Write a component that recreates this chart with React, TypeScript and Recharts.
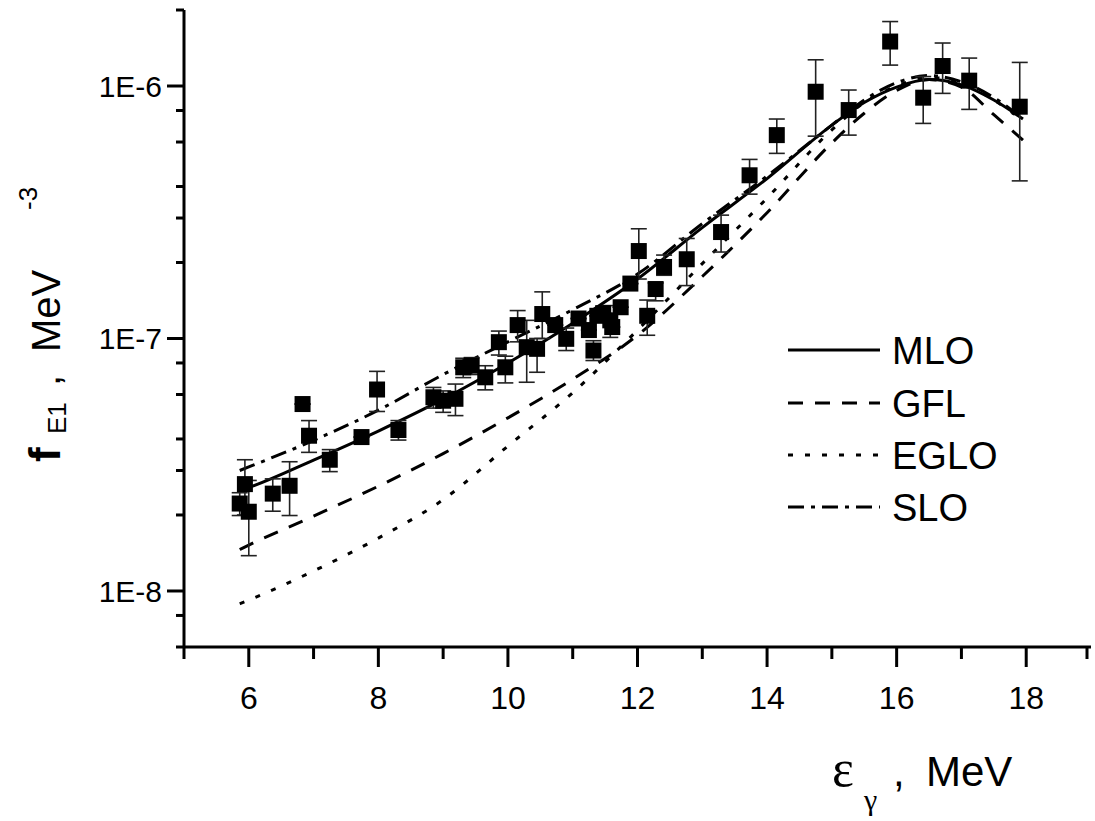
import React from "react";
import { ComposedChart, Line, Scatter, XAxis, YAxis, ErrorBar } from "recharts";

// experimental points (MeV, MeV^-3) and error bar bounds
const expEnergy = [5.86, 5.94, 6.0, 6.37, 6.63, 6.83, 6.93, 7.25, 7.74, 7.98, 8.31, 8.85, 9.0, 9.19, 9.31, 9.44, 9.65, 9.86, 9.96, 10.15, 10.29, 10.45, 10.53, 10.73, 10.9, 11.09, 11.25, 11.32, 11.38, 11.47, 11.58, 11.61, 11.74, 11.89, 12.02, 12.15, 12.28, 12.41, 12.76, 13.29, 13.73, 14.15, 14.75, 15.26, 15.9, 16.41, 16.71, 17.12, 17.9];
const expValue = [2.22e-8, 2.65e-8, 2.06e-8, 2.43e-8, 2.61e-8, 5.5e-8, 4.12e-8, 3.31e-8, 4.07e-8, 6.28e-8, 4.34e-8, 5.85e-8, 5.67e-8, 5.77e-8, 7.69e-8, 7.81e-8, 7.02e-8, 9.67e-8, 7.69e-8, 1.13e-7, 9.24e-8, 9.1e-8, 1.25e-7, 1.13e-7, 9.97e-8, 1.2e-7, 1.08e-7, 8.96e-8, 1.23e-7, 1.26e-7, 1.18e-7, 1.11e-7, 1.33e-7, 1.65e-7, 2.22e-7, 1.23e-7, 1.57e-7, 1.92e-7, 2.06e-7, 2.64e-7, 4.43e-7, 6.39e-7, 9.49e-7, 8.03e-7, 1.5e-6, 8.99e-7, 1.2e-6, 1.05e-6, 8.28e-7];
const expLow = [1.99e-8, 2.0e-8, 1.38e-8, 2.07e-8, 1.99e-8, 5.5e-8, 3.54e-8, 2.97e-8, 4.07e-8, 5.14e-8, 3.96e-8, 5.3e-8, 5.1e-8, 4.95e-8, 7.0e-8, 7.2e-8, 6.26e-8, 8.6e-8, 6.67e-8, 9.7e-8, 6.71e-8, 7.35e-8, 1.0e-7, 1.13e-7, 8.96e-8, 1.2e-7, 1.08e-7, 8.18e-8, 1.23e-7, 1.26e-7, 1.01e-7, 1.11e-7, 1.33e-7, 1.65e-7, 1.72e-7, 1.03e-7, 1.41e-7, 1.78e-7, 1.62e-7, 2.2e-7, 3.73e-7, 5.41e-7, 6.33e-7, 6.39e-7, 1.21e-6, 7.11e-7, 9.35e-7, 8.08e-7, 4.21e-7];
const expHigh = [2.45e-8, 3.31e-8, 2.74e-8, 2.78e-8, 3.25e-8, 5.5e-8, 4.73e-8, 3.63e-8, 4.07e-8, 7.41e-8, 4.73e-8, 6.4e-8, 6.2e-8, 6.6e-8, 8.35e-8, 8.4e-8, 7.8e-8, 1.07e-7, 8.51e-8, 1.29e-7, 1.18e-7, 1.0e-7, 1.53e-7, 1.13e-7, 1.1e-7, 1.2e-7, 1.08e-7, 9.8e-8, 1.23e-7, 1.26e-7, 1.35e-7, 1.11e-7, 1.33e-7, 1.65e-7, 2.72e-7, 1.42e-7, 1.66e-7, 2.14e-7, 2.49e-7, 3.08e-7, 5.12e-7, 7.4e-7, 1.27e-6, 9.64e-7, 1.8e-6, 1.09e-6, 1.48e-6, 1.29e-6, 1.24e-6];

// model curves
const curveEnergy = [5.86, 6, 7, 8, 9, 10, 11, 12, 13, 14, 15, 15.5, 16, 16.5, 17, 17.5, 17.95];
const mloValues = [2.5e-8, 2.57e-8, 3.3e-8, 4.3e-8, 5.75e-8, 8.0e-8, 1.15e-7, 1.72e-7, 2.75e-7, 4.3e-7, 7.0e-7, 8.6e-7, 9.9e-7, 1.06e-6, 1.01e-6, 8.8e-7, 7.4e-7];
const gflValues = [1.46e-8, 1.52e-8, 1.98e-8, 2.6e-8, 3.5e-8, 4.85e-8, 6.9e-8, 1.03e-7, 1.76e-7, 3.15e-7, 5.95e-7, 7.8e-7, 9.6e-7, 1.06e-6, 9.9e-7, 7.7e-7, 6.1e-7];
const egloValues = [8.9e-9, 9.2e-9, 1.2e-8, 1.62e-8, 2.3e-8, 3.75e-8, 6.1e-8, 1.08e-7, 1.98e-7, 3.6e-7, 6.7e-7, 8.6e-7, 1.0e-6, 1.08e-6, 1.03e-6, 8.8e-7, 7.3e-7];
const sloValues = [3.0e-8, 3.1e-8, 3.95e-8, 5.2e-8, 7.2e-8, 9.7e-8, 1.3e-7, 1.8e-7, 2.85e-7, 4.4e-7, 7.0e-7, 8.8e-7, 1.03e-6, 1.1e-6, 1.04e-6, 9.0e-7, 7.4e-7];

const xTicks = [5, 6, 7, 8, 9, 10, 11, 12, 13, 14, 15, 16, 17, 18, 19];
const yTicks = [6e-9, 7e-9, 8e-9, 9e-9, 1e-8, 2e-8, 3e-8, 4e-8, 5e-8, 6e-8, 7e-8, 8e-8, 9e-8, 1e-7, 2e-7, 3e-7, 4e-7, 5e-7, 6e-7, 7e-7, 8e-7, 9e-7, 1e-6, 2e-6];

const FONT = "'Liberation Sans', Arial, sans-serif";

const points = expEnergy.map((x, i) => ({
  x,
  y: expValue[i],
  err: [expValue[i] - expLow[i], expHigh[i] - expValue[i]],
}));
const toCurve = (vals: number[]) => curveEnergy.map((x, i) => ({ x, y: vals[i] }));

const XTick = (props: any) => {
  const { x, y, payload } = props;
  const major = payload.value % 2 === 0;
  return (
    <g>
      <line x1={x} x2={x} y1={y} y2={y + (major ? 20 : 12)} stroke="#000" strokeWidth={3} />
      {major && (
        <text x={x} y={y + 62} textAnchor="middle" fontSize={32} fontFamily={FONT} fill="#000">
          {payload.value}
        </text>
      )}
    </g>
  );
};

const YTick = (props: any) => {
  const { x, y, payload } = props;
  const lg = Math.log10(payload.value);
  const major = Math.abs(lg - Math.round(lg)) < 1e-6;
  return (
    <g>
      <line x1={x - (major ? 17 : 8)} x2={x} y1={y} y2={y} stroke="#000" strokeWidth={3} />
      {major && (
        <text x={x - 22} y={y + 11} textAnchor="end" fontSize={30} fontFamily={FONT} fill="#000">
          {`1E${Math.round(lg)}`}
        </text>
      )}
    </g>
  );
};

const Square = (p: any) => <rect x={p.cx - 8} y={p.cy - 8} width={16} height={16} fill="#000" />;

const legendRows = [
  { name: "MLO", dash: undefined, y: 350 },
  { name: "GFL", dash: "15 12", y: 403 },
  { name: "EGLO", dash: "5 12", y: 455 },
  { name: "SLO", dash: "16 7 4 7", y: 507 },
];

export default function App() {
  return (
    <div style={{ position: "absolute", left: 0, top: 0, width: 1095, height: 821, background: "#fff" }}>
      <ComposedChart width={1095} height={821} margin={{ top: 10, right: 4, bottom: 0, left: 0 }}>
        <XAxis
          type="number"
          dataKey="x"
          domain={[5, 19]}
          ticks={xTicks}
          allowDataOverflow
          height={174}
          tickSize={0}
          tickMargin={0}
          tickLine={false}
          tick={<XTick />}
          axisLine={{ stroke: "#000", strokeWidth: 3 }}
        />
        <YAxis
          type="number"
          dataKey="y"
          scale="log"
          domain={[6e-9, 2e-6]}
          ticks={yTicks}
          allowDataOverflow
          width={184}
          tickSize={0}
          tickMargin={0}
          tickLine={false}
          tick={<YTick />}
          axisLine={{ stroke: "#000", strokeWidth: 3 }}
        />
        <Line data={toCurve(egloValues)} dataKey="y" type="monotone" stroke="#000" strokeWidth={3} strokeDasharray="5 12" dot={false} activeDot={false} isAnimationActive={false} />
        <Line data={toCurve(gflValues)} dataKey="y" type="monotone" stroke="#000" strokeWidth={3} strokeDasharray="15 12" dot={false} activeDot={false} isAnimationActive={false} />
        <Line data={toCurve(sloValues)} dataKey="y" type="monotone" stroke="#000" strokeWidth={3} strokeDasharray="16 7 4 7" dot={false} activeDot={false} isAnimationActive={false} />
        <Line data={toCurve(mloValues)} dataKey="y" type="monotone" stroke="#000" strokeWidth={3} dot={false} activeDot={false} isAnimationActive={false} />
        <Scatter data={points} dataKey="y" shape={<Square />} isAnimationActive={false}>
          <ErrorBar dataKey="err" direction="y" width={8} stroke="#222" strokeWidth={1.6} />
        </Scatter>
      </ComposedChart>

      <svg width={1095} height={821} style={{ position: "absolute", left: 0, top: 0, pointerEvents: "none" }}>
        {legendRows.map((r) => (
          <g key={r.name}>
            <line x1={788} x2={880} y1={r.y} y2={r.y} stroke="#000" strokeWidth={3} strokeDasharray={r.dash} />
            <text x={892} y={r.y + 14} fontSize={38} fontFamily={FONT} fill="#000">
              {r.name}
            </text>
          </g>
        ))}

        {/* y axis title */}
        <g fontFamily={FONT} fill="#000">
          <text transform="translate(60,462) rotate(-90)" fontSize={44} fontWeight="bold">f</text>
          <text transform="translate(66,434) rotate(-90)" fontSize={26}>E1</text>
          <text transform="translate(60,386) rotate(-90)" fontSize={40}>,</text>
          <text transform="translate(60,352) rotate(-90)" fontSize={40}>MeV</text>
          <text transform="translate(37,210) rotate(-90)" fontSize={26}>-3</text>
        </g>

        {/* x axis title */}
        <text x={832} y={786} fontSize={52} fontFamily="'Liberation Serif', serif" fill="#000">ε</text>
        <text x={864} y={810} fontSize={30} fontFamily="'Liberation Serif', serif" fill="#000">γ</text>
        <text x={893} y={786} fontSize={42} fontFamily={FONT} fill="#000">,</text>
        <text x={926} y={786} fontSize={42} fontFamily={FONT} fill="#000">MeV</text>
      </svg>
    </div>
  );
}
